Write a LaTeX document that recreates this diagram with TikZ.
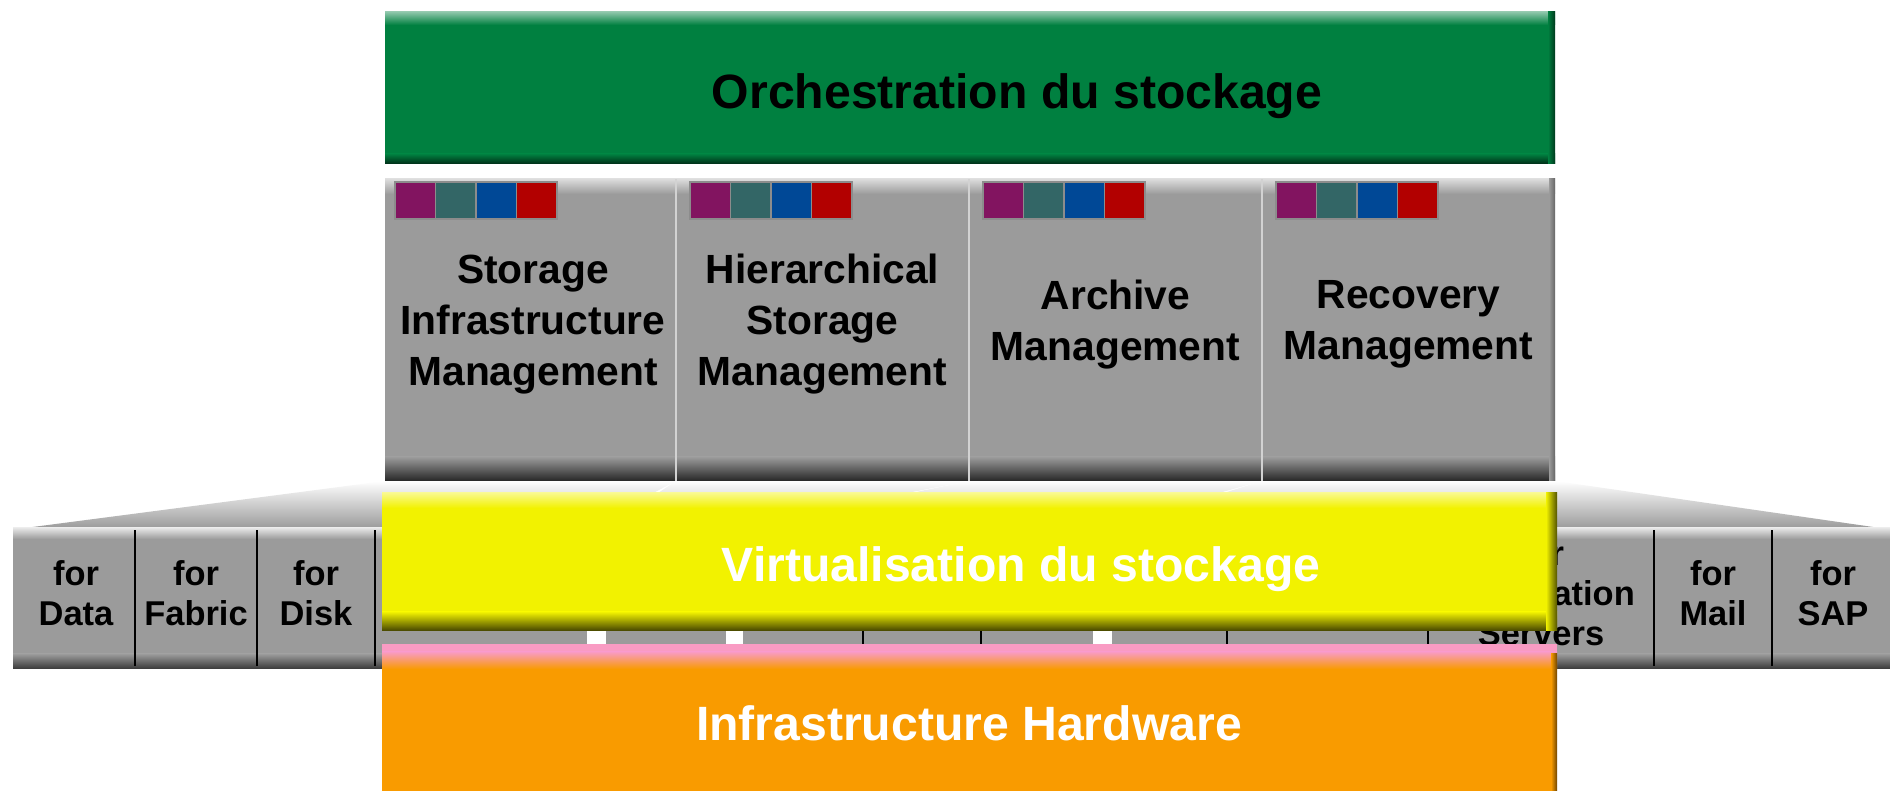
\documentclass[tikz,border=0pt]{standalone}
\usepackage{fontspec}
\setmainfont{Liberation Sans}
\usepackage{tikz}
\usetikzlibrary{backgrounds}

\definecolor{orchgreen}{RGB}{0,128,64}
\definecolor{panelgray}{RGB}{155,155,155}
\definecolor{virtyellow}{RGB}{242,242,0}
\definecolor{hworange}{RGB}{249,155,0}
\definecolor{hwpink}{RGB}{249,155,195}
\definecolor{sqpurple}{RGB}{130,20,96}
\definecolor{sqteal}{RGB}{51,102,102}
\definecolor{sqblue}{RGB}{0,72,150}
\definecolor{sqred}{RGB}{178,0,0}

\tikzset{
	mgmttext/.style = {align=center, font=\fontsize{11.6}{14.5}\selectfont\bfseries},
	celltext/.style = {align=center, font=\fontsize{9.8}{11.4}\selectfont\bfseries},
	layertext/.style = {anchor=base, font=\fontsize{13.7}{16}\selectfont\bfseries},
	celldiv/.style = {line width=.6pt, black},
	coldiv/.style = {line width=.4pt, white!55!panelgray},
}

\begin{document}
\begin{tikzpicture}
	\fill[white] (0,0) rectangle (18.9,7.91);
	\useasboundingbox (0,0) rectangle (18.9,7.91);

	% fan from the panel down to the band
	\foreach \a/\b/\c/\d in {3.85/6.76/0.25/5.87, 6.76/9.69/6.06/7.26, 9.69/12.62/7.43/10.93, 12.62/15.55/11.12/18.80}
		\shade[top color=white, bottom color=panelgray] (\a,3.10) -- (\b,3.10) -- (\d,2.63) -- (\c,2.63) -- cycle;

	% lower band
	\foreach \a/\b in {0.13/5.87, 6.06/7.26, 7.43/10.93, 11.12/18.90} {
		\fill[panelgray] (\a,1.22) rectangle (\b,2.63);
		\shade[top color=white!75!panelgray, bottom color=panelgray] (\a,2.52) rectangle (\b,2.63);
		\shade[top color=panelgray, bottom color=black!78] (\a,1.22) rectangle (\b,1.37);
	}
	\foreach \x in {1.35,2.57,3.75,8.63,9.81,12.27,14.28,16.54,17.72}
		\draw[celldiv] (\x,1.25) -- (\x,2.61);
	\node[celltext] (data) at (0.76,1.98) {for\\Data};
	\node[celltext] (fabric) at (1.96,1.98) {for\\Fabric};
	\node[celltext] (disk) at (3.16,1.98) {for\\Disk};
	\node[celltext] (appsrv) at (15.41,1.98) {for\\Application\\Servers};
	\node[celltext] (mail) at (17.13,1.98) {for\\Mail};
	\node[celltext] (sap) at (18.33,1.98) {for\\SAP};

	% management panel
	\fill[panelgray] (3.85,3.10) rectangle (15.55,6.12);
	\shade[top color=white!65!panelgray, bottom color=panelgray] (3.85,5.97) rectangle (15.55,6.12);
	\shade[top color=panelgray, bottom color=black!85] (3.85,3.10) rectangle (15.55,3.34);
	\shade[left color=panelgray, right color=black!60] (15.49,3.10) rectangle (15.55,6.12);
	\foreach \x in {6.76,9.69,12.62}
		\draw[coldiv] (\x,3.10) -- (\x,6.12);
	\foreach \x in {3.95,6.90,9.83,12.76}
		\foreach \c [count=\j from 0] in {sqpurple,sqteal,sqblue,sqred}
			\fill[\c, draw=black!45, line width=.3pt] ({\x+0.405*\j},5.72) rectangle ++(0.405,0.37);
	\node[mgmttext] (sim) at (5.33,4.665) {Storage\\Infrastructure\\Management};
	\node[mgmttext] (hsm) at (8.225,4.665) {Hierarchical\\Storage\\Management};
	\node[mgmttext] (arch) at (11.155,4.665) {Archive\\Management};
	\node[mgmttext] (recov) at (14.085,4.665) {Recovery\\Management};

	% orchestration
	\fill[orchgreen] (3.85,6.27) rectangle (15.55,7.79);
	\shade[top color=orchgreen!45!white, bottom color=orchgreen] (3.85,7.66) rectangle (15.55,7.79);
	\shade[top color=orchgreen, bottom color=orchgreen!35!black] (3.85,6.27) rectangle (15.55,6.37);
	\shade[left color=orchgreen, right color=orchgreen!45!black] (15.48,6.27) rectangle (15.55,7.79);
	\node[layertext] (orch) at (10.17,6.82) {Orchestration du stockage};

	% virtualisation
	\fill[virtyellow] (3.82,1.60) rectangle (15.57,2.98);
	\shade[top color=virtyellow!45!white, bottom color=virtyellow] (3.82,2.83) rectangle (15.57,2.98);
	\shade[top color=virtyellow, bottom color=virtyellow!28!black] (3.82,1.60) rectangle (15.57,1.79);
	\shade[left color=virtyellow, right color=virtyellow!35!black] (15.46,1.60) rectangle (15.57,2.98);
	\node[layertext, white] (virt) at (10.21,2.09) {Virtualisation du stockage};

	% hardware
	\fill[hworange] (3.82,0) rectangle (15.57,1.47);
	\fill[hwpink] (3.82,1.39) rectangle (15.57,1.47);
	\shade[top color=hwpink, bottom color=hworange] (3.82,1.22) rectangle (15.57,1.39);
	\shade[left color=hworange, right color=hworange!45!black] (15.51,0) rectangle (15.57,1.37);
	\node[layertext, white] (hw) at (9.69,0.50) {Infrastructure Hardware};
\end{tikzpicture}
\end{document}
